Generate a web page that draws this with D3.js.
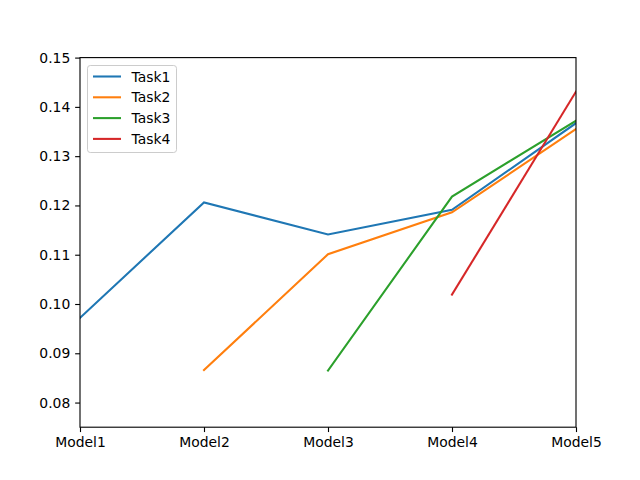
<!DOCTYPE html>
<html><head><meta charset="utf-8">
<script src="https://cdn.jsdelivr.net/npm/d3@7"></script>
<style>body{margin:0;background:#fff}svg{display:block}text{font-family:"DejaVu Sans",sans-serif}</style>
</head><body>
<script>
const categories = ["Model1","Model2","Model3","Model4","Model5"];
const task1 = [0.0972, 0.1206, 0.1141, 0.1191, 0.1367];
const task2 = [null, 0.0866, 0.1101, 0.1186, 0.1355];
const task3 = [null, null, 0.0865, 0.1218, 0.1372];
const task4 = [null, null, null, 0.1019, 0.1431];
const seriesNames = ["Task1","Task2","Task3","Task4"];
const colors = ["#1f77b4","#ff7f0e","#2ca02c","#d62728"];
const yTicks = [0.08,0.09,0.10,0.11,0.12,0.13,0.14,0.15];
const series = [task1, task2, task3, task4];

const W=640,H=480, L=80, R=576, T=57.6, B=427.2;
const svg = d3.select("body").append("svg").attr("width",W).attr("height",H);
const x = d3.scalePoint().domain(categories).range([L,R]);
const y = d3.scaleLinear().domain([0.075,0.15]).range([B,T]);

const fs = "13.9px";
const xAxis = svg.append("g").attr("transform",`translate(0,${B})`)
  .call(d3.axisBottom(x).tickSizeOuter(0).tickSize(4.86).tickPadding(4.86));
const yAxis = svg.append("g").attr("transform",`translate(${L},0)`)
  .call(d3.axisLeft(y).tickValues(yTicks).tickFormat(d3.format(".2f")).tickSizeOuter(0).tickSize(4.86).tickPadding(4.86));
[xAxis,yAxis].forEach(a=>{
  a.select(".domain").remove();
  a.selectAll("line").attr("stroke","#000").attr("stroke-width",1.11);
  a.selectAll("text").style("font-size",fs).attr("fill","#000").style("font-family","DejaVu Sans");
});

const clip = svg.append("clipPath").attr("id","c").append("rect").attr("x",L).attr("y",T).attr("width",R-L).attr("height",B-T);
const line = d3.line().defined(d=>d.v!=null).x(d=>x(d.c)).y(d=>y(d.v));
series.forEach((s,i)=>{
  svg.append("path").datum(s.map((v,j)=>({c:categories[j],v})))
    .attr("d",line).attr("fill","none").attr("stroke",colors[i]).attr("stroke-width",2.08)
    .attr("stroke-linecap","square").attr("clip-path","url(#c)");
});

svg.append("rect").attr("x",L).attr("y",T).attr("width",R-L).attr("height",B-T)
  .attr("fill","none").attr("stroke","#000").attr("stroke-width",1.11);

// legend
const lg = svg.append("g");
lg.append("rect").attr("x",87.5).attr("y",65.5).attr("width",89).attr("height",87).attr("rx",2.8)
  .attr("fill","#fff").attr("fill-opacity",0.8).attr("stroke","#ccc").attr("stroke-width",1);
seriesNames.forEach((n,i)=>{
  const yy = 76.5 + i*20.8;
  lg.append("line").attr("x1",93).attr("x2",121).attr("y1",yy).attr("y2",yy)
    .attr("stroke",colors[i]).attr("stroke-width",2.08);
  lg.append("text").attr("x",131.5).attr("y",yy).attr("dy","0.36em").style("font-size",fs).text(n);
});
</script>
</body></html>
